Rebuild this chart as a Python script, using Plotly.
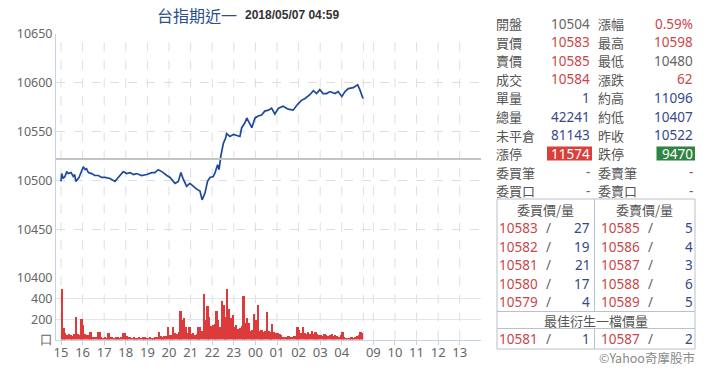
import plotly.graph_objects as go

# The page places the figure 8px from the top-left corner of the window,
# so all layout constants below are in window pixels and shifted by OFF.
OFF = 8
W, H = 720 - OFF, 376 - OFF
PL, PR = 56, 481  # plot area in window pixels (left/right)


def px(x):
    return (x - PL) / (PR - PL)


def py(y):
    return (H - (y - OFF)) / H


DAY_POS_0900 = 14.46  # axis position of 09:00 (day session)


def session_pos(t):
    h, m = map(int, t.split(":"))
    v = h + m / 60
    if v >= 15:
        return v - 15
    if v < 6:
        return v + 9
    return v - 9 + DAY_POS_0900


# ---------------- data ----------------
title_name = "台指期近一"
title_time = "2018/05/07 04:59"
prev_close = 10522

price_times = [
    "15:00", "15:02", "15:06", "15:11", "15:16", "15:20", "15:28", "15:34", "15:38", "15:41",
    "15:50", "15:57", "16:02", "16:07", "16:11", "16:16", "16:25", "16:34", "16:44", "16:53",
    "17:02", "17:16", "17:30", "17:39", "17:53", "18:02", "18:12", "18:21", "18:30", "18:44",
    "18:58", "19:12", "19:21", "19:30", "19:40", "19:54", "20:03", "20:12", "20:17", "20:26",
    "20:33", "20:40", "20:49", "20:58", "21:07", "21:17", "21:26", "21:32", "21:40", "21:47",
    "21:54", "22:03", "22:08", "22:15", "22:19", "22:24", "22:31", "22:37", "22:40", "22:49",
    "22:59", "23:08", "23:17", "23:22", "23:31", "23:36", "23:45", "23:50", "23:59", "00:08",
    "00:17", "00:26", "00:36", "00:45", "00:54", "01:04", "01:17", "01:31", "01:45", "01:55",
    "02:08", "02:18", "02:32", "02:41", "02:50", "02:59", "03:08", "03:18", "03:27", "03:41",
    "03:50", "04:00", "04:09", "04:18", "04:32", "04:44", "04:50", "04:55", "04:59",
]
price_values = [
    10499, 10507, 10502, 10504, 10509, 10507, 10508, 10504, 10506, 10499,
    10503, 10509, 10514, 10511, 10512, 10508, 10507, 10505, 10505, 10503,
    10503, 10502, 10499, 10503, 10509, 10507, 10508, 10506, 10507, 10505,
    10506, 10508, 10508, 10511, 10509, 10505, 10503, 10499, 10497, 10499,
    10508, 10501, 10494, 10497, 10494, 10491, 10489, 10480, 10487, 10499,
    10503, 10504, 10508, 10516, 10511, 10525, 10538, 10543, 10548, 10545,
    10547, 10546, 10545, 10554, 10559, 10564, 10558, 10554, 10564, 10566,
    10567, 10571, 10572, 10574, 10568, 10574, 10576, 10573, 10572, 10577,
    10582, 10584, 10588, 10592, 10589, 10593, 10589, 10589, 10591, 10589,
    10591, 10586, 10591, 10594, 10595, 10598, 10593, 10587, 10584,
]

# 5-minute volume buckets, one list per hour of the night session
vol_15 = [500, 110, 65, 45, 50, 40, 35, 55, 220, 50, 40, 200]
vol_16 = [143, 50, 40, 45, 77, 25, 20, 25, 77, 77, 20, 15]
vol_17 = [20, 15, 67, 25, 20, 15, 20, 27, 15, 20, 67, 60]
vol_18 = [30, 20, 25, 15, 20, 15, 10, 20, 15, 20, 25, 10]
vol_19 = [15, 20, 15, 10, 20, 25, 77, 30, 25, 35, 30, 127]
vol_20 = [40, 45, 127, 60, 55, 70, 283, 193, 210, 127, 60, 127]
vol_21 = [50, 60, 45, 55, 120, 127, 80, 450, 193, 327, 227, 130]
vol_22 = [140, 150, 277, 193, 120, 383, 343, 227, 500, 303, 210, 243]
vol_23 = [120, 140, 100, 110, 130, 427, 160, 210, 160, 80, 90, 253]
vol_00 = [193, 343, 80, 90, 70, 80, 267, 80, 75, 153, 70, 60]
vol_01 = [60, 50, 40, 27, 25, 20, 30, 25, 20, 30, 35, 120]
vol_02 = [93, 60, 120, 60, 55, 70, 50, 80, 55, 75, 50, 45]
vol_03 = [40, 35, 50, 45, 30, 40, 50, 35, 45, 30, 25, 40]
vol_04 = [70, 20, 15, 10, 15, 20, 15, 25, 30, 45, 77, 60]
vol_hours = ["15", "16", "17", "18", "19", "20", "21", "22", "23", "00", "01", "02", "03", "04"]
vol_lists = [vol_15, vol_16, vol_17, vol_18, vol_19, vol_20, vol_21, vol_22,
             vol_23, vol_00, vol_01, vol_02, vol_03, vol_04]

tick_times = ["15:00", "16:00", "17:00", "18:00", "19:00", "20:00", "21:00", "22:00",
              "23:00", "00:00", "01:00", "02:00", "03:00", "04:00",
              "09:00", "10:00", "11:00", "12:00", "13:00"]
tick_labels = ["15", "16", "17", "18", "19", "20", "21", "22", "23", "00", "01", "02",
               "03", "04", "09", "10", "11", "12", "13"]
session_break = "05:00"

price_ticks = [10400, 10450, 10500, 10550, 10600, 10650]
vol_ticks = [0, 200, 400]
vol_ticktext = ["口", "200", "400"]

# quote panel
quote_left_labels = ["開盤", "買價", "賣價", "成交", "單量", "總量", "未平倉", "漲停", "委買筆", "委買口"]
quote_left_values = ["10504", "10583", "10585", "10584", "1", "42241", "81143", "11574", "-", "-"]
quote_left_kind = ["flat", "up", "up", "up", "vol", "vol", "vol", "limitup", "dash", "dash"]
quote_right_labels = ["漲幅", "最高", "最低", "漲跌", "約高", "約低", "昨收", "跌停", "委賣筆", "委賣口"]
quote_right_values = ["0.59%", "10598", "10480", "62", "11096", "10407", "10522", "9470", "-", "-"]
quote_right_kind = ["up", "up", "flat", "up", "vol", "vol", "vol", "limitdown", "dash", "dash"]

bid_prices = ["10583", "10582", "10581", "10580", "10579"]
bid_qty = ["27", "19", "21", "17", "4"]
ask_prices = ["10585", "10586", "10587", "10588", "10589"]
ask_qty = ["5", "4", "3", "6", "5"]
best_bid = ("10581", "1")
best_ask = ("10587", "2")

# ---------------- styles ----------------
RED = "#c9474a"
BLUE = "#35498a"
GRAY = "#666666"
LABEL = "#555555"
AXIS = "#c5d3e2"
GRID = "#dedede"
CJK = "Noto Sans CJK TC"
NUM = "Noto Sans"
kind_color = {"flat": GRAY, "up": RED, "vol": BLUE, "dash": GRAY,
              "limitup": "white", "limitdown": "white"}

# ---------------- figure ----------------
fig = go.Figure()

vol_x, vol_y = [], []
for hr, vals in zip(vol_hours, vol_lists):
    for i, v in enumerate(vals):
        vol_x.append(session_pos(f"{hr}:{i * 5:02d}") + 2.5 / 60)
        vol_y.append(v)

fig.add_trace(go.Bar(x=vol_x, y=vol_y, width=5 / 60, marker=dict(color="#dd3a3c", line_width=0),
                     yaxis="y2", xaxis="x", hoverinfo="skip"))
fig.add_trace(go.Scatter(x=[session_pos(t) for t in price_times], y=price_values, mode="lines",
                         line=dict(color="#1f4a9b", width=1.7), yaxis="y", xaxis="x"))

shapes = []
# vertical dashed gridlines
for t in tick_times + [session_break]:
    shapes.append(dict(type="line", xref="x", yref="paper", x0=session_pos(t), x1=session_pos(t),
                       y0=py(339.5), y1=py(34), line=dict(color=GRID, width=1, dash="dash"), layer="below"))
# previous close line
shapes.append(dict(type="line", xref="paper", yref="y", x0=0, x1=1, y0=prev_close, y1=prev_close,
                   line=dict(color="#c4c4c4", width=2)))

annotations = []
annotations.append(dict(text=title_name, x=px(155), y=py(15), xref="paper", yref="paper",
                        xanchor="left", yanchor="middle", showarrow=False,
                        font=dict(family=CJK, size=16, color="#2c4f8c")))
annotations.append(dict(text="<b>" + title_time + "</b>", x=px(243), y=py(15), xref="paper", yref="paper",
                        xanchor="left", yanchor="middle", showarrow=False,
                        font=dict(family="Liberation Sans", size=12, color="#333333")))


def txt(s, x, y, anchor, color, family=NUM, size=13.5):
    annotations.append(dict(text=s, x=px(x), y=py(y), xref="paper", yref="paper", xanchor=anchor,
                            yanchor="middle", showarrow=False, borderpad=0,
                            font=dict(family=family, size=size, color=color)))


row_y0, row_dy = 23.5, 18.6
for i in range(len(quote_left_labels)):
    y = row_y0 + i * row_dy
    txt(quote_left_labels[i], 495, y, "left", LABEL, CJK, 13)
    txt(quote_right_labels[i], 597, y, "left", LABEL, CJK, 13)
    if quote_left_kind[i] == "limitup":
        shapes.append(dict(type="rect", xref="paper", yref="paper", x0=px(547), x1=px(592),
                           y0=py(160.5), y1=py(146.5), fillcolor="#d8403b", line_width=0))
    if quote_right_kind[i] == "limitdown":
        shapes.append(dict(type="rect", xref="paper", yref="paper", x0=px(656.5), x1=px(695),
                           y0=py(160.5), y1=py(146.5), fillcolor="#2f8442", line_width=0))
    txt(quote_left_values[i], 591, y, "right", kind_color[quote_left_kind[i]])
    txt(quote_right_values[i], 694, y, "right", kind_color[quote_right_kind[i]])

# order book table
TB_L, TB_R, TB_M = 497, 695, 594.5
TB_T, TB_B = 199, 349
LINE = "#b9c1cc"
shapes.append(dict(type="rect", xref="paper", yref="paper", x0=px(TB_L), x1=px(TB_R),
                   y0=py(TB_B), y1=py(TB_T), line=dict(color=LINE, width=1)))
shapes.append(dict(type="line", xref="paper", yref="paper", x0=px(TB_M), x1=px(TB_M),
                   y0=py(311.5), y1=py(TB_T), line=dict(color=LINE, width=1)))
shapes.append(dict(type="line", xref="paper", yref="paper", x0=px(TB_M), x1=px(TB_M),
                   y0=py(TB_B), y1=py(328.5), line=dict(color=LINE, width=1)))
for yy in (311.5, 328.5):
    shapes.append(dict(type="line", xref="paper", yref="paper", x0=px(TB_L), x1=px(TB_R),
                       y0=py(yy), y1=py(yy), line=dict(color=LINE, width=1)))

txt("委買價/量", (TB_L + TB_M) / 2, 209, "center", LABEL, CJK, 13)
txt("委賣價/量", (TB_M + TB_R) / 2, 209, "center", LABEL, CJK, 13)
book_y0, book_dy = 228, 18.5
for i in range(len(bid_prices)):
    y = book_y0 + i * book_dy
    txt(bid_prices[i], 498, y, "left", RED)
    txt("/", 548, y, "center", GRAY)
    txt(bid_qty[i], 591, y, "right", BLUE)
    txt(ask_prices[i], 600, y, "left", RED)
    txt("/", 650, y, "center", GRAY)
    txt(ask_qty[i], 694, y, "right", BLUE)
txt("最佳衍生一檔價量", (TB_L + TB_R) / 2, 320, "center", LABEL, CJK, 13)
txt(best_bid[0], 498, 339, "left", RED)
txt("/", 548, 339, "center", GRAY)
txt(best_bid[1], 591, 339, "right", BLUE)
txt(best_ask[0], 600, 339, "left", RED)
txt("/", 650, 339, "center", GRAY)
txt(best_ask[1], 694, 339, "right", BLUE)
txt("©Yahoo奇摩股市", 696, 357, "right", "#8a8a8a", CJK, 12.5)

x_left = session_pos("15:00") - (61 - PL) / 21.6
x_right = session_pos("15:00") + (PR - 61) / 21.6

fig.update_layout(
    width=W, height=H,
    margin=dict(l=PL - OFF, r=W - (PR - OFF), t=0, b=0, autoexpand=False),
    paper_bgcolor="white", plot_bgcolor="white",
    showlegend=False, bargap=0,
    shapes=shapes, annotations=annotations,
    xaxis=dict(anchor="y2", range=[x_left, x_right], automargin=False,
               tickvals=[session_pos(t) for t in tick_times], ticktext=tick_labels,
               ticks="outside", ticklen=4, tickcolor=AXIS, showline=True, linecolor=AXIS,
               ticklabelstandoff=-3,
               showgrid=False, zeroline=False, tickfont=dict(family=NUM, size=13, color=GRAY)),
    yaxis=dict(domain=[py(278), py(34)], range=[price_ticks[0], price_ticks[-1]], anchor="x",
               automargin=False, tickformat="d",
               tickvals=price_ticks, showgrid=True, gridcolor=GRID, griddash="dash",
               showline=True, linecolor=AXIS, zeroline=False, ticks="",
               tickfont=dict(family=NUM, size=12.5, color=GRAY)),
    yaxis2=dict(domain=[py(339.5), py(278)], range=[0, 607], anchor="x", automargin=False,
                tickvals=vol_ticks, ticktext=vol_ticktext, showgrid=True, gridcolor="#dfe6ee",
                showline=True, linecolor=AXIS, zeroline=False, ticks="",
                tickfont=dict(family=NUM, size=12.5, color=GRAY)),
)

fig.write_html("out.html")
